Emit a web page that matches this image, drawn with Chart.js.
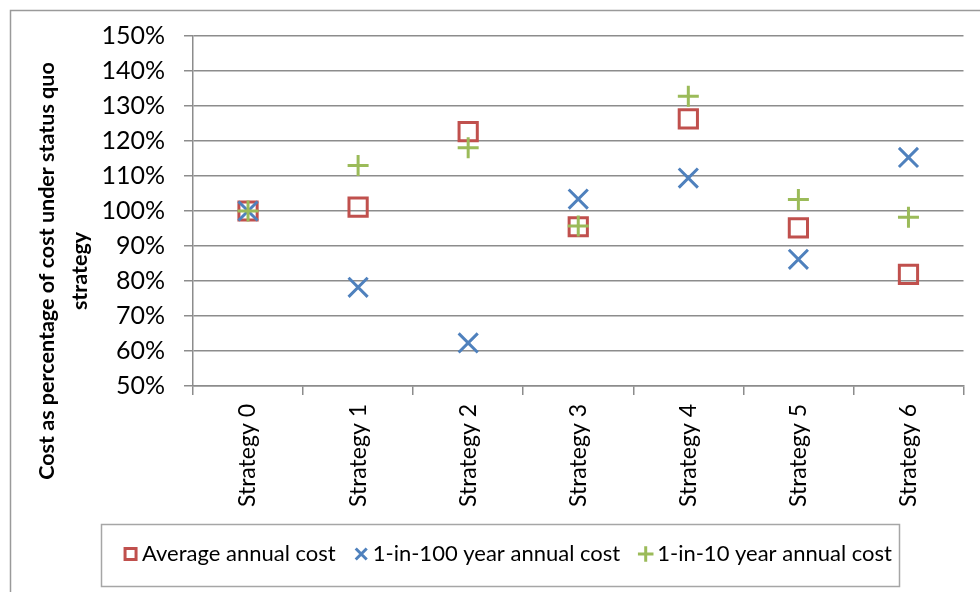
<!DOCTYPE html>
<html><head><meta charset="utf-8">
<script src="https://cdn.jsdelivr.net/npm/chart.js@4"></script>
<style>html,body{margin:0;padding:0;background:#fff;} #wrap{width:980px;height:592px;position:relative;}</style>
</head><body><div id="wrap"><canvas id="c" width="980" height="592"></canvas></div>
<script>
const categories = ['Strategy 0', 'Strategy 1', 'Strategy 2', 'Strategy 3', 'Strategy 4', 'Strategy 5', 'Strategy 6'];
const averageAnnualCost = [100, 101.1, 122.7, 95.5, 126.3, 95.2, 81.9];
const oneIn100YearCost = [100, 78.2, 62.3, 103.4, 109.4, 86.2, 115.3];
const oneIn10YearCost = [100, 113.0, 118.1, 95.7, 132.8, 103.3, 98.2];
const seriesNames = ['Average annual cost', '1-in-100 year annual cost', '1-in-10 year annual cost'];
const yMin = 50, yMax = 150, yStep = 10;
const yTitleLines = ['Cost as percentage of cost under status quo', 'strategy'];

const FONT = 'Lato';
const GRID = '#8c8c8c';

const framePlugin = {
  id: 'frame',
  afterDraw(chart) {
    const ctx = chart.ctx;
    ctx.save();
    ctx.strokeStyle = '#9a9a9a';
    ctx.lineWidth = 1.5;
    ctx.beginPath();
    ctx.moveTo(10.5, 592);
    ctx.lineTo(10.5, 10.5);
    ctx.lineTo(980, 10.5);
    ctx.stroke();
    const lg = chart.legend;
    if (lg && lg.legendHitBoxes && lg.legendHitBoxes.length) {
      const hb = lg.legendHitBoxes;
      const first = hb[0], last = hb[hb.length - 1];
      const cy = first.top + first.height / 2;
      const x0 = first.left - 29, x1 = last.left + last.width + 7;
      ctx.strokeStyle = '#a6a6a6';
      ctx.lineWidth = 1.5;
      ctx.strokeRect(Math.round(x0) + 0.5, Math.round(cy - 30) + 0.5, Math.round(x1 - x0), 62);
    }
    ctx.fillStyle = '#000';
    ctx.font = 'bold 21.5px ' + FONT;
    ctx.textAlign = 'center';
    ctx.textBaseline = 'middle';
    ctx.translate(0, 271);
    ctx.rotate(-Math.PI / 2);
    ctx.fillText(yTitleLines[0], 0, 47);
    ctx.fillText(yTitleLines[1], 0, 80);
    ctx.restore();
  }
};

const common = { showLine: false, pointBorderWidth: 3, pointHoverBorderWidth: 3, pointBackgroundColor: 'rgba(0,0,0,0)', backgroundColor: 'rgba(255,255,255,0)' };

new Chart(document.getElementById('c'), {
  type: 'line',
  data: {
    labels: categories,
    datasets: [
      Object.assign({}, common, { label: seriesNames[0], order: 3, data: averageAnnualCost, pointStyle: 'rect', pointRadius: 12.9, pointHoverRadius: 12.9, borderColor: '#C0504D', pointBorderColor: '#C0504D' }),
      Object.assign({}, common, { label: seriesNames[1], order: 2, data: oneIn100YearCost, pointStyle: 'crossRot', pointRadius: 13.5, pointHoverRadius: 13.5, borderColor: '#4F81BD', pointBorderColor: '#4F81BD' }),
      Object.assign({}, common, { label: seriesNames[2], order: 1, data: oneIn10YearCost, pointStyle: 'cross', pointRadius: 10.5, pointHoverRadius: 10.5, borderColor: '#9BBB59', pointBorderColor: '#9BBB59' })
    ]
  },
  options: {
    responsive: false,
    animation: false,
    events: [],
    layout: { padding: { left: 52, right: 10, top: 36, bottom: 17 } },
    plugins: {
      tooltip: { enabled: false },
      legend: {
        position: 'bottom',
        labels: {
          usePointStyle: true, boxWidth: 1, boxHeight: 11, padding: 25,
          color: '#000', font: { family: FONT, size: 22 },
          sort: (a, b) => a.datasetIndex - b.datasetIndex
        }
      }
    },
    scales: {
      x: {
        offset: true,
        afterFit(s) { s.height = 132; },
        grid: { display: true, drawOnChartArea: false, drawTicks: true, offset: true, tickLength: 9, color: GRID, lineWidth: 1.5 },
        border: { display: true, color: GRID, width: 1.5 },
        ticks: { minRotation: 90, maxRotation: 90, autoSkip: false, padding: 9, color: '#000', font: { family: FONT, size: 23 } }
      },
      y: {
        min: yMin, max: yMax,
        afterFit(s) { s.width = 141; },
        grid: { color: GRID, lineWidth: 1.5, tickLength: 9, drawTicks: true },
        border: { display: true, color: GRID, width: 1.5 },
        ticks: { stepSize: yStep, padding: 19, color: '#000', font: { family: FONT, size: 25 }, callback: v => v + '%' }
      }
    }
  },
  plugins: [framePlugin]
});
</script></body></html>
